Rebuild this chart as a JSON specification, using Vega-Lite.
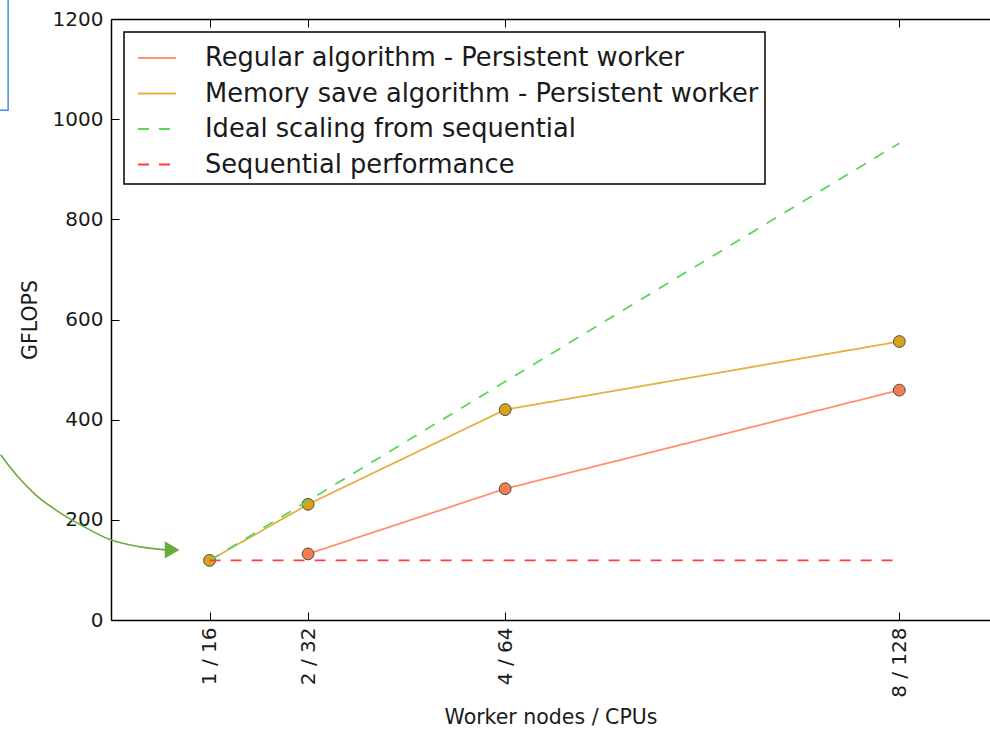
{
  "$schema": "https://vega.github.io/schema/vega-lite/v6.json",
  "width": 879,
  "height": 601,
  "autosize": {"type": "none"},
  "padding": {"left": 111, "top": 19, "right": 0, "bottom": 111},
  "background": "white",
  "config": {
    "view": {"stroke": null},
    "font": "DejaVu Sans",
    "axis": {
      "grid": false,
      "domainColor": "black",
      "domainWidth": 1.5,
      "tickColor": "black",
      "tickWidth": 1,
      "tickSize": -8,
      "labelFont": "DejaVu Sans",
      "labelFontSize": 20,
      "labelColor": "#1a1a1a",
      "titleFont": "DejaVu Sans",
      "titleFontSize": 20.5,
      "titleFontWeight": "normal",
      "titleColor": "#1a1a1a"
    },
    "legend": {
      "orient": "none",
      "legendX": 13,
      "legendY": 13,
      "strokeColor": "black",
      "strokeWidth": 1.5,
      "fillColor": "white",
      "padding": 6,
      "labelFont": "DejaVu Sans",
      "labelFontSize": 25.7,
      "labelColor": "#1a1a1a",
      "labelLimit": 0,
      "labelOffset": 28,
      "symbolType": "stroke",
      "symbolSize": 1444,
      "symbolStrokeWidth": 2,
      "symbolOffset": 7,
      "rowPadding": 2.5
    }
  },
  "datasets": {
    "perf": [
      {"series": "Regular algorithm - Persistent worker", "nodes": 2, "gflops": 132},
      {"series": "Regular algorithm - Persistent worker", "nodes": 4, "gflops": 262},
      {"series": "Regular algorithm - Persistent worker", "nodes": 8, "gflops": 459},
      {"series": "Memory save algorithm - Persistent worker", "nodes": 1, "gflops": 119},
      {"series": "Memory save algorithm - Persistent worker", "nodes": 2, "gflops": 231},
      {"series": "Memory save algorithm - Persistent worker", "nodes": 4, "gflops": 420},
      {"series": "Memory save algorithm - Persistent worker", "nodes": 8, "gflops": 556},
      {"series": "Ideal scaling from sequential", "nodes": 1, "gflops": 119},
      {"series": "Ideal scaling from sequential", "nodes": 2, "gflops": 238},
      {"series": "Ideal scaling from sequential", "nodes": 4, "gflops": 476},
      {"series": "Ideal scaling from sequential", "nodes": 8, "gflops": 952},
      {"series": "Sequential performance", "nodes": 1, "gflops": 119},
      {"series": "Sequential performance", "nodes": 8, "gflops": 119}
    ],
    "arrow": [
      {"nodes": -1.12, "gflops": 330},
      {"nodes": -1.02, "gflops": 304},
      {"nodes": -0.917, "gflops": 280},
      {"nodes": -0.765, "gflops": 250},
      {"nodes": -0.562, "gflops": 220},
      {"nodes": -0.308, "gflops": 190},
      {"nodes": -0.004, "gflops": 160},
      {"nodes": 0.3, "gflops": 146},
      {"nodes": 0.56, "gflops": 140}
    ],
    "arrowhead": [
      {"nodes": 0.62, "gflops": 140}
    ],
    "box": [
      {"nodes": -1.4, "nodes_end": -1.044, "gflops": 1018, "gflops_end": 1270}
    ]
  },
  "encoding": {
    "y": {
      "field": "gflops",
      "type": "quantitative",
      "scale": {"domain": [0, 1200], "nice": false, "zero": false},
      "axis": {"values": [0, 200, 400, 600, 800, 1000, 1200], "format": "d", "title": "GFLOPS", "labelPadding": 16, "titlePadding": 12}
    }
  },
  "resolve": {"axis": {"x": "independent"}},
  "layer": [
    {
      "data": {"name": "perf"},
      "transform": [{"filter": "indexof(['Regular algorithm - Persistent worker','Memory save algorithm - Persistent worker'], datum.series) >= 0"}],
      "mark": {"type": "line", "strokeWidth": 1.8},
      "encoding": {
        "x": {
          "field": "nodes",
          "type": "quantitative",
          "scale": {"domain": [0, 8.92], "nice": false, "zero": false},
          "axis": {"values": [1, 2, 4, 8], "labelExpr": "datum.value + ' / ' + (datum.value * 16)", "labelAngle": 270, "labelPadding": 15, "title": "Worker nodes / CPUs", "titlePadding": 10}
        },
        "color": {
          "field": "series",
          "type": "nominal",
          "scale": {
            "domain": ["Regular algorithm - Persistent worker", "Memory save algorithm - Persistent worker", "Ideal scaling from sequential", "Sequential performance"],
            "range": ["#ff9070", "#e6b040", "#5cd65c", "#ff3b3b"]
          },
          "legend": {"title": null}
        },
        "strokeDash": {
          "field": "series",
          "type": "nominal",
          "scale": {
            "domain": ["Regular algorithm - Persistent worker", "Memory save algorithm - Persistent worker", "Ideal scaling from sequential", "Sequential performance"],
            "range": [[1, 0], [1, 0], [11, 10], [11, 10]]
          },
          "legend": {"title": null}
        }
      }
    },
    {
      "data": {"name": "perf"},
      "transform": [{"filter": "indexof(['Regular algorithm - Persistent worker','Memory save algorithm - Persistent worker'], datum.series) >= 0"}],
      "mark": {"type": "point", "shape": "circle", "filled": true, "size": 140, "stroke": "#4d4d4d", "strokeWidth": 1, "opacity": 1},
      "encoding": {
        "x": {"field": "nodes", "type": "quantitative", "axis": null},
        "fill": {
          "field": "series",
          "type": "nominal",
          "scale": {"domain": ["Regular algorithm - Persistent worker", "Memory save algorithm - Persistent worker"], "range": ["#f57b50", "#d9a21b"]},
          "legend": null
        }
      }
    },
    {
      "data": {"name": "perf"},
      "transform": [{"filter": "indexof(['Ideal scaling from sequential','Sequential performance'], datum.series) >= 0"}],
      "mark": {"type": "line", "strokeWidth": 1.8},
      "encoding": {
        "x": {
          "field": "nodes",
          "type": "quantitative",
          "axis": {"orient": "top", "values": [1, 2, 4, 8], "labels": false, "title": null}
        },
        "color": {"field": "series", "type": "nominal", "legend": {"title": null}},
        "strokeDash": {"field": "series", "type": "nominal", "legend": {"title": null}}
      }
    },
    {
      "data": {"name": "arrow"},
      "mark": {"type": "line", "color": "#6aab3c", "strokeWidth": 1.6, "interpolate": "monotone", "clip": false},
      "encoding": {
        "x": {"field": "nodes", "type": "quantitative", "axis": null}
      }
    },
    {
      "data": {"name": "arrowhead"},
      "mark": {"type": "point", "shape": "triangle-right", "filled": true, "color": "#6aab3c", "size": 290, "opacity": 1, "clip": false},
      "encoding": {
        "x": {"field": "nodes", "type": "quantitative", "axis": null}
      }
    },
    {
      "data": {"name": "box"},
      "mark": {"type": "rect", "fill": null, "stroke": "#4a8de6", "strokeWidth": 1.5, "clip": false},
      "encoding": {
        "x": {"field": "nodes", "type": "quantitative", "axis": null},
        "x2": {"field": "nodes_end"},
        "y2": {"field": "gflops_end"}
      }
    }
  ]
}
